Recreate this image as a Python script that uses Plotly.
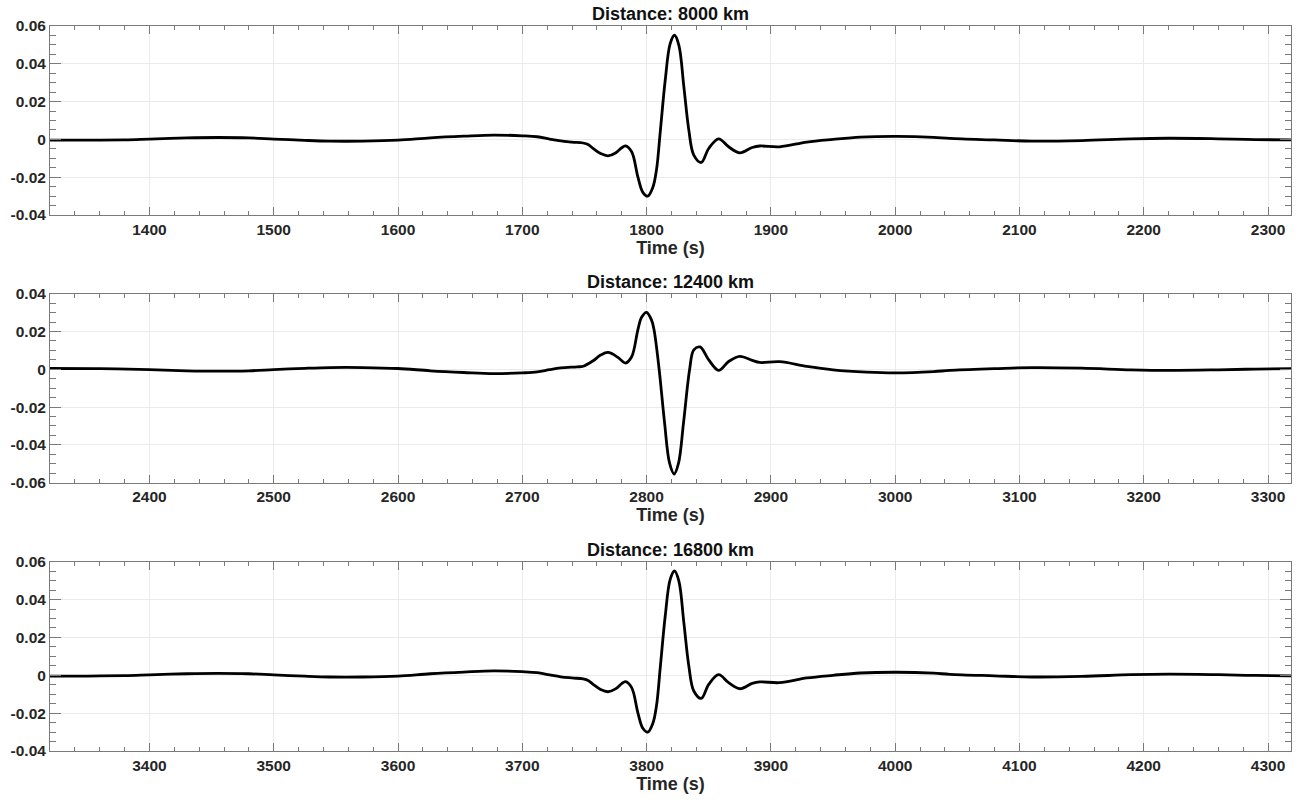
import plotly.graph_objects as go

# ---------------- data ----------------
titles = ["Distance: 8000 km", "Distance: 12400 km", "Distance: 16800 km"]

t1 = [1320, 1350, 1380, 1400, 1430, 1455, 1480, 1500, 1525, 1545, 1572, 1600, 1626, 1653,
      1677, 1700, 1712, 1722, 1731, 1740, 1749, 1753, 1757, 1763, 1769, 1775, 1780, 1783,
      1788, 1793, 1797, 1801, 1805, 1808, 1811, 1815, 1819, 1822.5, 1826, 1830, 1834, 1838,
      1844, 1850, 1858, 1866, 1875, 1885, 1891, 1907, 1929, 1950, 1972, 2001, 2031, 2044,
      2080, 2110, 2150, 2190, 2220, 2260, 2290, 2318.5]
y1 = [-0.0004, -0.0004, -0.0002, 0.0002, 0.0008, 0.0010, 0.0008, 0.0002, -0.0005, -0.0009,
      -0.0009, -0.0004, 0.0008, 0.0017, 0.0023, 0.0019, 0.0014, 0.0002, -0.0008, -0.0014,
      -0.0019, -0.0027, -0.0048, -0.0075, -0.0087, -0.0072, -0.0044, -0.0034, -0.0065,
      -0.0198, -0.0280, -0.0300, -0.0255, -0.0160, 0.0040, 0.0313, 0.0507, 0.0551, 0.0498,
      0.0278, 0.0049, -0.0083, -0.0122, -0.0048, 0.0003, -0.0039, -0.0071, -0.0043, -0.0035,
      -0.0039, -0.0014, 0.0000, 0.0012, 0.0016, 0.0011, 0.0005, -0.0003, -0.0009, -0.0006,
      0.0003, 0.0006, 0.0003, -0.0001, -0.0003]

t2 = [2320, 2360, 2400, 2430, 2455, 2480, 2500, 2525, 2545, 2572, 2600, 2626, 2653, 2677,
      2700, 2712, 2722, 2731, 2744, 2749, 2757, 2763, 2769, 2777, 2783, 2788, 2793, 2796,
      2800, 2804, 2806, 2810, 2814.5, 2818.5, 2822.2, 2825.7, 2829.7, 2834.6, 2838, 2843,
      2850, 2858, 2866, 2875, 2885, 2891, 2907, 2929, 2950, 2977, 3001, 3031, 3044, 3080,
      3110, 3150, 3190, 3220, 3260, 3290, 3318.5]
y2 = [0.0004, 0.0003, -0.0002, -0.0008, -0.0010, -0.0008, -0.0002, 0.0005, 0.0009, 0.0009,
      0.0004, -0.0008, -0.0017, -0.0023, -0.0019, -0.0014, -0.0002, 0.0007, 0.0013, 0.0016,
      0.0045, 0.0075, 0.0089, 0.0063, 0.0033, 0.0066, 0.0209, 0.0275, 0.0301, 0.0260,
      0.0209, 0.0006, -0.0285, -0.0497, -0.0554, -0.0497, -0.0285, -0.0003, 0.0103, 0.0118,
      0.0050, -0.0006, 0.0041, 0.0068, 0.0047, 0.0036, 0.0040, 0.0015, -0.0003, -0.0015,
      -0.0019, -0.0012, -0.0006, 0.0003, 0.0009, 0.0006, -0.0003, -0.0006, -0.0003, 0.0001,
      0.0003]

t3 = [3320, 3350, 3380, 3400, 3430, 3455, 3480, 3500, 3525, 3545, 3572, 3600, 3626, 3653,
      3677, 3700, 3712, 3722, 3731, 3740, 3749, 3753, 3757, 3763, 3769, 3775, 3780, 3783,
      3788, 3793, 3797, 3801, 3805, 3808, 3811, 3815, 3819, 3822.5, 3826, 3830, 3834, 3838,
      3844, 3850, 3858, 3866, 3875, 3885, 3891, 3907, 3929, 3950, 3972, 4001, 4031, 4044,
      4080, 4110, 4150, 4190, 4220, 4260, 4290, 4318.5]
y3 = [-0.0004, -0.0004, -0.0002, 0.0002, 0.0008, 0.0010, 0.0008, 0.0002, -0.0005, -0.0009,
      -0.0009, -0.0004, 0.0008, 0.0017, 0.0023, 0.0019, 0.0014, 0.0002, -0.0008, -0.0014,
      -0.0019, -0.0027, -0.0048, -0.0075, -0.0087, -0.0072, -0.0044, -0.0034, -0.0065,
      -0.0198, -0.0280, -0.0300, -0.0255, -0.0160, 0.0040, 0.0313, 0.0507, 0.0551, 0.0498,
      0.0278, 0.0049, -0.0083, -0.0122, -0.0048, 0.0003, -0.0039, -0.0071, -0.0043, -0.0035,
      -0.0039, -0.0014, 0.0000, 0.0012, 0.0016, 0.0011, 0.0005, -0.0003, -0.0009, -0.0006,
      0.0003, 0.0006, 0.0003, -0.0001, -0.0003]

x_ranges = [[1320, 2318.5], [2320, 3318.5], [3320, 4318.5]]
x_ticks = [[1400, 1500, 1600, 1700, 1800, 1900, 2000, 2100, 2200, 2300],
           [2400, 2500, 2600, 2700, 2800, 2900, 3000, 3100, 3200, 3300],
           [3400, 3500, 3600, 3700, 3800, 3900, 4000, 4100, 4200, 4300]]
y_ranges = [[-0.04, 0.06], [-0.06, 0.04], [-0.04, 0.06]]
y_ticks = [[-0.04, -0.02, 0, 0.02, 0.04, 0.06],
           [-0.06, -0.04, -0.02, 0, 0.02, 0.04],
           [-0.04, -0.02, 0, 0.02, 0.04, 0.06]]
x_label = "Time (s)"

# ---------------- figure ----------------
series = [(t1, y1), (t2, y2), (t3, y3)]
domains = [[0.7393, 1.0], [0.3701, 0.6308], [0.0, 0.2611]]

FONT = "Liberation Sans, Arial, Helvetica, sans-serif"
TXT = "#262626"
AX = "#7a7a7a"
GRID = "#ebebeb"

fig = go.Figure()
layout = dict(
    width=1308, height=800,
    margin=dict(l=50, r=17, t=26, b=49),
    paper_bgcolor="white", plot_bgcolor="white",
    showlegend=False,
    font=dict(family=FONT, color=TXT),
)
annotations = []

def fmt(v):
    if v == 0:
        return "0"
    return f"{v:.2f}"

for i, ((tx, ty), dom) in enumerate(zip(series, domains)):
    n = "" if i == 0 else str(i + 1)
    xa, ya = "x" + n, "y" + n
    fig.add_trace(go.Scatter(x=tx, y=ty, mode="lines", xaxis=xa, yaxis=ya,
                             line=dict(color="black", width=2.8, shape="spline", smoothing=1.0),
                             hoverinfo="skip"))
    layout["xaxis" + n] = dict(
        domain=[0, 1], anchor=ya, range=x_ranges[i], automargin=False,
        tickvals=x_ticks[i], ticktext=[str(v) for v in x_ticks[i]],
        ticks="inside", ticklen=8, tickwidth=1, tickcolor=AX,
        showline=True, linecolor=AX, linewidth=1, mirror="allticks",
        showgrid=True, gridcolor=GRID, gridwidth=1, zeroline=False,
        tickfont=dict(family=FONT, size=15.5, color=TXT, weight="bold"),
        minor=dict(dtick=20, tick0=0, ticks="inside", ticklen=4, tickcolor=AX, showgrid=False),
        title=dict(text="<b>" + x_label + "</b>", font=dict(family=FONT, size=18, color=TXT), standoff=1),
    )
    layout["yaxis" + n] = dict(
        domain=dom, anchor=xa, range=y_ranges[i], automargin=False,
        tickvals=y_ticks[i], ticktext=[fmt(v) for v in y_ticks[i]],
        ticks="inside", ticklen=11, tickwidth=1, tickcolor=AX,
        showline=True, linecolor=AX, linewidth=1, mirror="allticks",
        showgrid=True, gridcolor=GRID, gridwidth=1, zeroline=False,
        tickfont=dict(family=FONT, size=15.5, color=TXT, weight="bold"),
        minor=dict(dtick=0.005, tick0=0, ticks="inside", ticklen=6, tickcolor=AX, showgrid=False),
    )
    annotations.append(dict(
        text="<b>" + titles[i] + "</b>", xref="paper", yref="paper",
        x=0.5, y=dom[1], xanchor="center", yanchor="bottom", yshift=0,
        showarrow=False, font=dict(family=FONT, size=18, color="#111111"),
    ))

layout["annotations"] = annotations
fig.update_layout(**layout)
# remove the default 8px page margin so the 1308x800 figure fills the window exactly
fig.write_html("out.html", config={"displayModeBar": False},
               post_script="document.body.style.margin='0px';document.body.style.overflow='hidden';")
